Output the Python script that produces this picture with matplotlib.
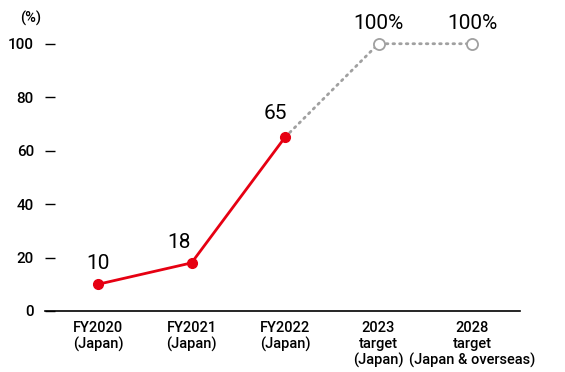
import matplotlib.pyplot as plt

categories = ['FY2020\n(Japan)', 'FY2021\n(Japan)', 'FY2022\n(Japan)',
              '2023\ntarget\n(Japan)', '2028\ntarget\n(Japan & overseas)']
actual = [10, 18, 65]
target = [65, 100, 100]
actual_labels = ['10', '18', '65']
target_labels = ['100%', '100%']

plt.rcParams['font.family'] = ['Roboto', 'DejaVu Sans']
plt.rcParams['font.weight'] = 'medium'

fig = plt.figure(figsize=(5.65, 3.72), dpi=100)
ax = fig.add_axes([45 / 565, 61 / 372, 475 / 565, 294 / 372])

xs = list(range(len(categories)))
xa = xs[:len(actual)]
xt = xs[len(actual) - 1:]

ax.plot(xt, target, color='#a0a0a0', lw=2, ls=(0, (0.6, 1.8)),
        dash_capstyle='round', zorder=1)
ax.plot(xt[1:], target[1:], 'o', ms=8, mfc='white', mec='#a0a0a0',
        mew=1.3, zorder=3)
ax.plot(xa, actual, color='#e60012', lw=2, marker='o', ms=7, zorder=2)

offsets = [(0, 8), (-9, 8), (-7, 10)]
for x, v, t, off in zip(xa, actual, actual_labels, offsets):
    ax.annotate(t, (x, v), xytext=off, textcoords='offset points',
                ha='center', va='bottom', fontsize=15, fontweight='normal')
for x, v, t in zip(xt[1:], target[1:], target_labels):
    ax.annotate(t, (x, v), xytext=(0, 8), textcoords='offset points',
                ha='center', va='bottom', fontsize=15, fontweight='normal')

ax.set_xlim(-0.567, 4.513)
ax.set_ylim(0, 110)
ax.set_yticks([0, 20, 40, 60, 80, 100])
ax.set_xticks(xs)
ax.set_xticklabels(categories, linespacing=1.2)
for s in ['top', 'right', 'left']:
    ax.spines[s].set_visible(False)
ax.spines['bottom'].set_linewidth(1.2)
ax.tick_params(axis='y', direction='in', length=7, width=1, pad=8,
               labelsize=11)
ax.tick_params(axis='x', length=0, pad=7, labelsize=10.5)
fig.text(20 / 565, 1 - 18 / 372, '(%)', fontsize=10.5, va='center')

plt.savefig('out.png')
